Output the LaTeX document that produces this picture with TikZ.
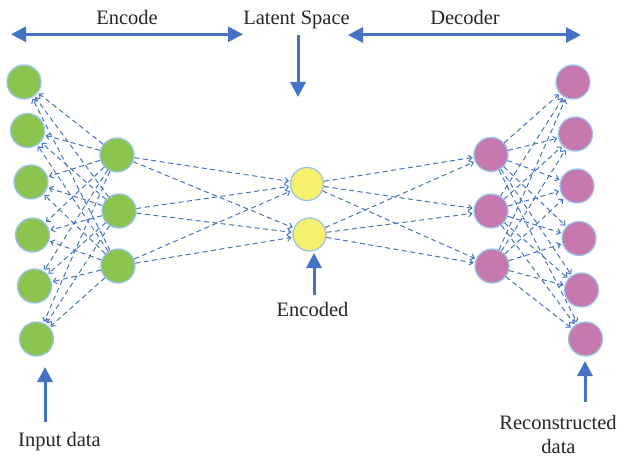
\documentclass[tikz,border=0pt]{standalone}
\usepackage{fontspec}
\setmainfont{Liberation Serif}
\usetikzlibrary{arrows.meta}
\definecolor{arrowblue}{HTML}{4472C4}
\definecolor{gfill}{HTML}{8BC550}
\definecolor{yfill}{HTML}{F5F06E}
\definecolor{pfill}{HTML}{C778AE}
\definecolor{nborder}{HTML}{9DC3E6}
\tikzset{
  neuron/.style={circle, draw=nborder, line width=1.3pt, minimum size=34pt, inner sep=0pt},
  gnode/.style={neuron, fill=gfill},
  ynode/.style={neuron, fill=yfill, minimum size=33pt},
  pnode/.style={neuron, fill=pfill},
  link/.style={draw=arrowblue, line width=1pt, dash pattern=on 5pt off 3.5pt, -{Straight Barb[length=3.5pt,width=6pt]}, shorten >=1pt},
  bigarrow/.style={draw=arrowblue, line width=3pt, -{Triangle[length=15pt,width=15pt]}},
  bigdarrow/.style={draw=arrowblue, line width=3pt, {Triangle[length=15pt,width=15pt]}-{Triangle[length=15pt,width=15pt]}},
  lbl/.style={font=\fontsize{20.5}{23}\selectfont, text=black!85, anchor=base, inner sep=0pt}
}
\begin{document}
\begin{tikzpicture}[x=1pt,y=-1pt]
\useasboundingbox (0,0) rectangle (621,457);
% input layer
\node[gnode] (i1) at (24,82) {};
\node[gnode] (i2) at (27.5,130.5) {};
\node[gnode] (i3) at (31,182) {};
\node[gnode] (i4) at (32.5,235) {};
\node[gnode] (i5) at (34.5,286) {};
\node[gnode] (i6) at (36.5,339) {};
% hidden encoder
\node[gnode] (h1) at (117,155) {};
\node[gnode] (h2) at (119,211) {};
\node[gnode] (h3) at (118,266) {};
% latent
\node[ynode] (z1) at (307,184) {};
\node[ynode] (z2) at (309.5,234.5) {};
% hidden decoder
\node[pnode] (d1) at (491,154.5) {};
\node[pnode] (d2) at (491,211) {};
\node[pnode] (d3) at (492,266) {};
% output layer
\node[pnode] (o1) at (573,82) {};
\node[pnode] (o2) at (575.5,134) {};
\node[pnode] (o3) at (577,186) {};
\node[pnode] (o4) at (579,238.5) {};
\node[pnode] (o5) at (581.5,290) {};
\node[pnode] (o6) at (585.5,339) {};
% connectors
\foreach \h in {h1,h2,h3}{
  \foreach \i in {i1,i2,i3,i4,i5,i6}{
    \draw[link] (\h) -- (\i);
  }
  \foreach \z in {z1,z2}{
    \draw[link] (\h) -- (\z);
  }
}
\foreach \d in {d1,d2,d3}{
  \foreach \z in {z1,z2}{
    \draw[link] (\z) -- (\d);
  }
  \foreach \o in {o1,o2,o3,o4,o5,o6}{
    \draw[link] (\d) -- (\o);
  }
}
% labels
\node[lbl] (tenc) at (127,25) {Encode};
\node[lbl] (tlat) at (296.5,25) {Latent Space};
\node[lbl] (tdec) at (465,25) {Decoder};
\node[lbl] (tenced) at (312.5,316.5) {Encoded};
\node[lbl] (tin) at (59.5,446) {Input data};
\node[lbl] (trec) at (558,429) {Reconstructed};
\node[lbl] (tdata) at (558.5,453) {data};
% big arrows
\coordinate (encL) at (11,34.3);
\coordinate (encR) at (243,34.3);
\coordinate (decL) at (348,35);
\coordinate (decR) at (581,35);
\coordinate (latT) at (298,35);
\coordinate (latB) at (298,97);
\coordinate (encdB) at (314,295);
\coordinate (encdT) at (314,253);
\coordinate (inB) at (45,422);
\coordinate (inT) at (45,367);
\coordinate (recB) at (585,402);
\coordinate (recT) at (585,361);
\draw[bigdarrow] (encL) -- (encR);
\draw[bigdarrow] (decL) -- (decR);
\draw[bigarrow] (latT) -- (latB);
\draw[bigarrow] (encdB) -- (encdT);
\draw[bigarrow] (inB) -- (inT);
\draw[bigarrow] (recB) -- (recT);
\end{tikzpicture}
\end{document}
